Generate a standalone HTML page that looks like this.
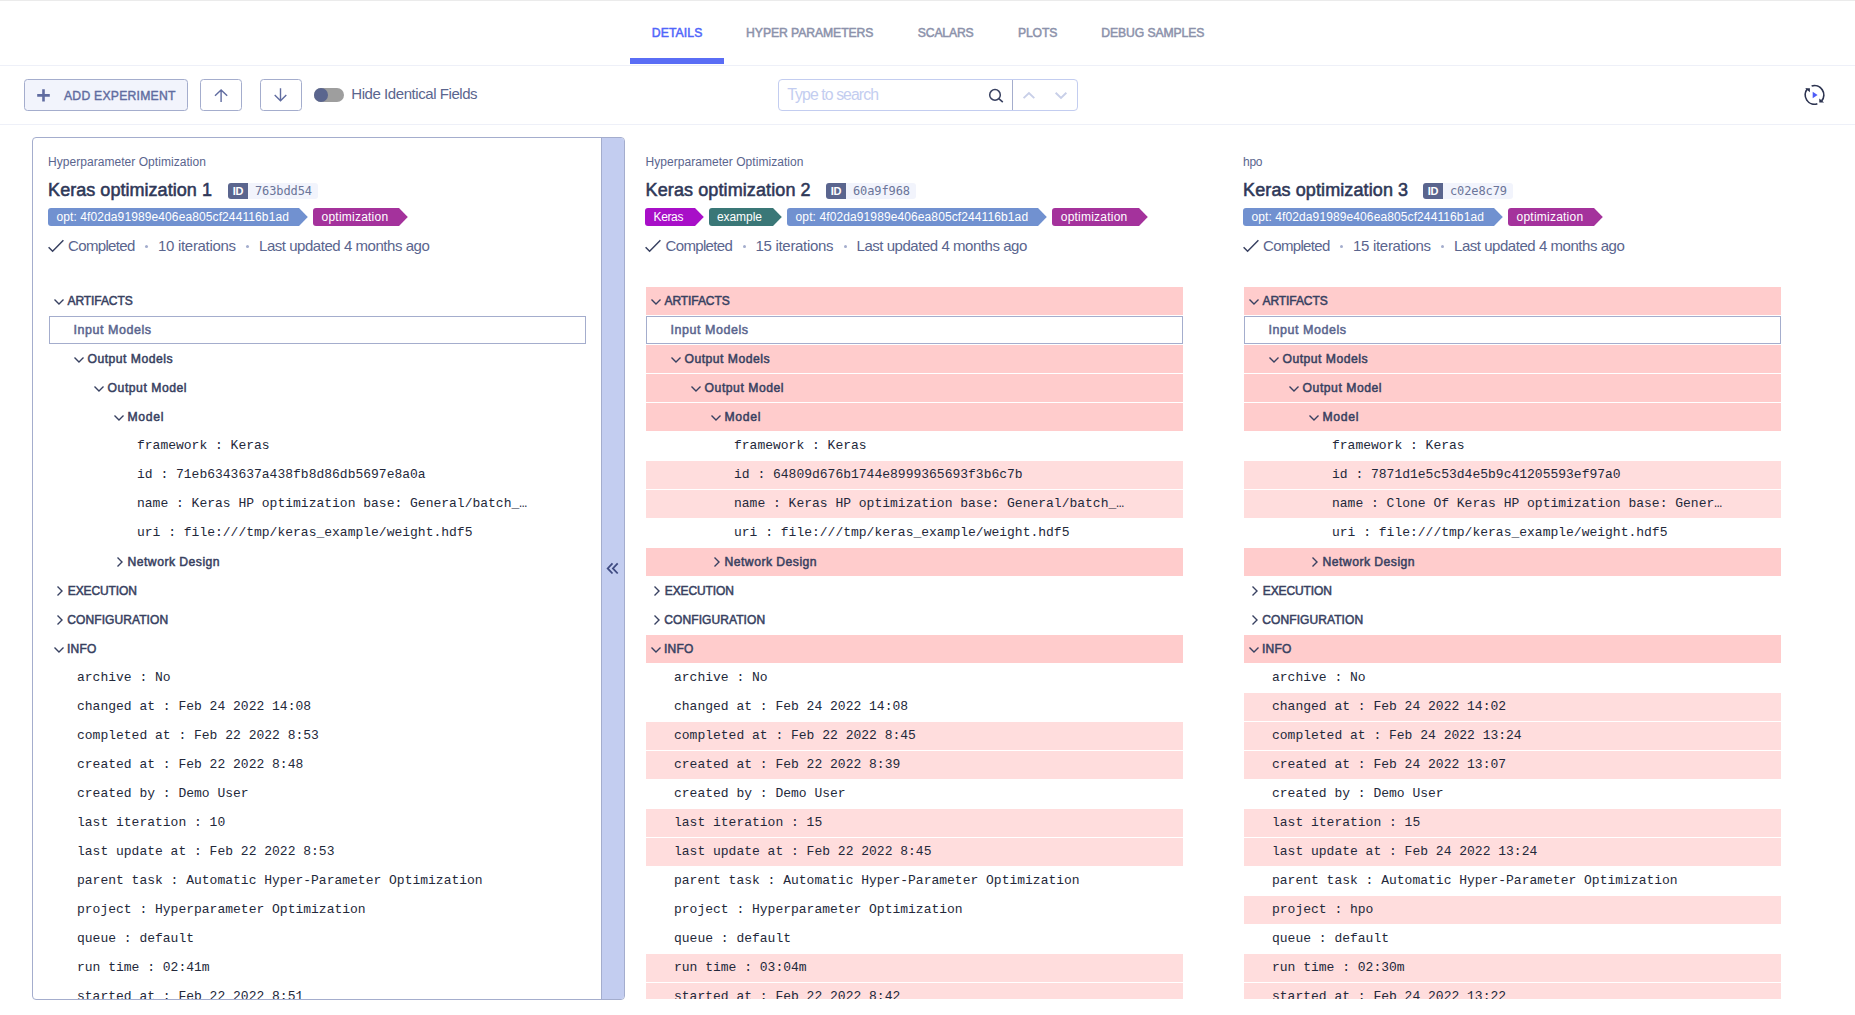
<!DOCTYPE html>
<html lang="en"><head><meta charset="utf-8"><title>Compare experiments</title>
<style>
*{box-sizing:border-box;margin:0;padding:0}
html,body{width:1855px;height:1015px;overflow:hidden;background:#fff}
body{font-family:"Liberation Sans",sans-serif;color:#384161;position:relative}
.abs{position:absolute}
i{font-style:normal}
.med{-webkit-text-stroke:0.35px currentColor}
.topline{position:absolute;left:0;top:0;width:1855px;height:1px;background:#ebebeb}
.tabs{position:absolute;left:0;top:0;width:1855px;height:66px;border-bottom:1px solid #eef0f8}
.tab{position:absolute;top:25.2px;height:16px;line-height:16px;font-size:12.2px;color:#8c92ab;white-space:nowrap;-webkit-text-stroke:0.5px currentColor}
.tab.act{color:#5066fa}
.tabbar{position:absolute;left:630px;top:58px;width:94px;height:6px;background:#5a6df5}
.toolbar{position:absolute;left:0;top:66px;width:1855px;height:59px;border-bottom:1px solid #eef0f8}
.btn{position:absolute;top:79px;height:32px;border:1px solid #a4adcd;border-radius:3.5px;background:#fff}
.btn.add{left:24px;width:164px;background:#f2f4fc}
.btn.add span{position:absolute;top:8.4px;font-size:12.2px;line-height:16px;color:#606ca0;white-space:nowrap;-webkit-text-stroke:0.4px currentColor}
.btn svg{position:absolute}
.toggle{position:absolute;left:314px;top:88px;width:30px;height:14px;border-radius:7px;background:#9e9e9e}
.toggle i{position:absolute;left:0;top:0;width:14px;height:14px;border-radius:7px;background:#5a658e}
.hidelbl{position:absolute;top:85px;font-size:15px;line-height:18px;color:#5a658e;white-space:nowrap}
.search{position:absolute;left:778px;top:79px;width:300px;height:32px;border:1px solid #c3cdf0;border-radius:4px;background:#fff}
.search .ph{position:absolute;top:6px;font-size:15.8px;line-height:18px;color:#c3cdf0;white-space:nowrap}
.search .sep{position:absolute;left:233px;top:0;width:1px;height:30px;background:#a4adcd}
.search svg{position:absolute}
.refresh{position:absolute;left:1803px;top:84px}

.card{position:absolute;top:137px;height:863px;overflow:hidden}
.c1{left:32px;width:593px;border:1px solid #a4adcd;border-radius:4px}
.c2{left:629px;width:593px;border:1px solid transparent}
.c3{left:1227px;width:593px;border:1px solid transparent}
.bar{position:absolute;right:0;top:0;width:23px;height:863px;background:#c3cdf0;border-left:1px solid #a4adcd}
.bar svg{position:absolute;left:2px;top:422px}
.hd{position:absolute;left:15px;top:0;width:560px;height:140px}
.proj{position:absolute;top:17px;font-size:12px;line-height:14px;color:#5a658e;white-space:nowrap}
.tname{position:absolute;top:40px;font-size:18px;line-height:24px;color:#2f3858;white-space:nowrap;-webkit-text-stroke:0.55px currentColor}
.idb{position:absolute;top:45px;width:20px;height:16px;background:#5a658e;border-radius:3px 0 0 3px;color:#fff;font-size:11px;font-weight:bold;line-height:16px;text-align:center;letter-spacing:-0.2px}
.idv{position:absolute;top:45px;height:16px;width:70px;background:#f2f4fc;border-radius:0 3px 3px 0;font-family:"DejaVu Sans Mono","Liberation Mono",monospace;font-size:12px;line-height:16px;color:#6b7599;padding-left:7px;letter-spacing:-0.1px}
.tags{position:absolute;left:0;top:70px;height:18px;width:570px;white-space:nowrap;font-size:0}
.tag{position:relative;display:inline-block;vertical-align:top;margin-right:13.8px;height:18px;border-radius:3px 0 0 3px;color:#fff;font-size:12px;line-height:18px;white-space:nowrap}
.tag span{position:absolute;top:0}
.tagarrow{position:absolute;right:-9px;top:0}
.status{position:absolute;left:0;top:98.6px;height:18px;width:560px;font-size:15px;line-height:18px;color:#5a658e;white-space:nowrap}
.dot{position:absolute;width:3px;height:3px;border-radius:2px;background:#a4adcd;top:8px}
.tree{position:absolute;left:16px;top:149px;width:537px}
.row{height:28px;margin-bottom:1px;white-space:nowrap;position:relative}
.row .lbl{position:absolute;top:6px;line-height:16px;font-size:12.5px;color:#384161;-webkit-text-stroke:0.5px currentColor}
.row.box{border:1px solid #a4adcd;background:#fff}
.row.box .lbl{color:#5a658e;top:5px}
.row .mono{position:absolute;top:6px;line-height:16px;font-family:"Liberation Mono",monospace;font-size:13px;color:#23283a}
.row.D{background:#ffcccc}
.row.L{background:#ffdddd}

</style></head>
<body>
<div class="tabs"></div>
<div class="topline"></div>
<div class="tab act" style="left:651.7px;letter-spacing:0.14px">DETAILS</div>
<div class="tab" style="left:746.1px;letter-spacing:-0.074px">HYPER PARAMETERS</div>
<div class="tab" style="left:917.8px;letter-spacing:-0.161px">SCALARS</div>
<div class="tab" style="left:1017.9px;letter-spacing:-0.133px">PLOTS</div>
<div class="tab" style="left:1101.3px;letter-spacing:-0.106px">DEBUG SAMPLES</div>
<div class="tabbar"></div>
<div class="toolbar"></div>
<div class="btn add"><svg style="left:12px;top:9px" viewBox="0 0 13 13" width="13" height="13"><path d="M6.5 0.2 V12.6 M0.2 6.4 H12.8" stroke="#606ca0" stroke-width="2.6" fill="none"/></svg><span style="left:39.0px;letter-spacing:0.238px">ADD EXPERIMENT</span></div>
<div class="btn" style="left:200px;width:42px"><svg style="left:12px;top:8px" viewBox="0 0 16 16" width="16" height="16"><path d="M8.1 14 V2.5 M2 7.8 L8.1 1.9 L14.2 7.8" stroke="#606ca0" stroke-width="1.4" fill="none"/></svg></div>
<div class="btn" style="left:260px;width:42px"><svg style="left:12px;top:8px" viewBox="0 0 16 16" width="16" height="16"><path d="M7.5 0.3 V12.2 M1.7 6.9 L7.5 12.7 L13.3 6.9" stroke="#606ca0" stroke-width="1.4" fill="none"/></svg></div>
<div class="toggle"><i></i></div>
<div class="hidelbl" style="left:351.3px;letter-spacing:-0.438px">Hide Identical Fields</div>
<div class="search"><span class="ph" style="left:8.25px;letter-spacing:-0.914px">Type to search</span>
<svg style="left:209px;top:8px" viewBox="0 0 16 16" width="16" height="16"><circle cx="7" cy="6.9" r="5.3" fill="none" stroke="#384161" stroke-width="1.5"/><path d="M10.8 10.7 L14.8 14.1" stroke="#384161" stroke-width="1.6"/></svg>
<div class="sep"></div>
<svg style="left:243px;top:10px" viewBox="0 0 14 10" width="14" height="10"><path d="M1.6 8.1 L6.95 3 L12.3 8.1" fill="none" stroke="#c8cfe8" stroke-width="1.9"/></svg>
<svg style="left:275px;top:10px" viewBox="0 0 14 10" width="14" height="10"><path d="M1.65 2.8 L7 7.9 L12.35 2.8" fill="none" stroke="#c8cfe8" stroke-width="1.9"/></svg>
</div>
<svg class="abs" style="left:1802px;top:83px" viewBox="-12.5 -11.9 24 24" width="24" height="24"><path d="M-2.87 -8.85 A9.3 9.3 0 0 1 7.12 5.98 M2.87 8.85 A9.3 9.3 0 0 1 -7.12 -5.98" fill="none" stroke="#2c3350" stroke-width="1.7"/><path d="M4.8 3.6 L4.8 7.7 L9.6 7.7 Z M-9.4 -6.7 L-4.6 -6.7 L-4.6 -2.7 Z" fill="#2c3350"/><path d="M-1.8 -3.1 L-1.8 3.3 L3.1 0 Z" fill="#4d5cf7"/></svg>

<div class="card c1"><div class="hd">
<div class="proj" style="left:0.1px;letter-spacing:0.04px">Hyperparameter Optimization</div>
<div class="tname" style="left:0.1px;letter-spacing:0.038px">Keras optimization 1</div>
<span class="idb" style="left:180px">ID</span><span class="idv" style="left:200px">763bdd54</span>
<div class="tags"><div class="tag" style="width:251.2px;background:#7191d0"><span style="left:8.4px;letter-spacing:0.106px">opt: 4f02da91989e406ea805cf244116b1ad</span><svg class="tagarrow" viewBox="0 0 9 18" width="9" height="18"><path d="M0 0 L8.8 9 L0 18 Z" fill="#7191d0"/></svg></div><div class="tag" style="width:86.5px;background:#a4329c"><span style="left:8.6px;letter-spacing:0.222px">optimization</span><svg class="tagarrow" viewBox="0 0 9 18" width="9" height="18"><path d="M0 0 L8.8 9 L0 18 Z" fill="#a4329c"/></svg></div></div>
<div class="status"><svg class="abs" style="left:-1px;top:1px" viewBox="0 0 18 16" width="18" height="16"><path d="M1.6 9.2 L5.6 13.2 L16.4 2.2" fill="none" stroke="#384161" stroke-width="1.5"/></svg><span class="abs" style="left:20.1px;letter-spacing:-0.675px">Completed</span><i class="dot" style="left:97px"></i><span class="abs" style="left:110.1px;letter-spacing:-0.318px">10 iterations</span><i class="dot" style="left:198px"></i><span class="abs" style="left:211px;letter-spacing:-0.461px">Last updated 4 months ago</span></div>
</div><div class="tree"><div class="row sec"><svg class="abs" style="left:4.2px;top:11px" width="12" height="8" viewBox="0 0 12 8"><path d="M1.5 1.5 L6 6 L10.5 1.5" fill="none" stroke="#384161" stroke-width="1.4"/></svg><span class="lbl" style="font-size:12.0px;left:18.5px;letter-spacing:-0.073px">ARTIFACTS</span></div>
<div class="row box"><span class="lbl" style="left:23.6px;letter-spacing:0.54px">Input Models</span></div>
<div class="row grp"><svg class="abs" style="left:24.2px;top:11px" width="12" height="8" viewBox="0 0 12 8"><path d="M1.5 1.5 L6 6 L10.5 1.5" fill="none" stroke="#384161" stroke-width="1.4"/></svg><span class="lbl" style="font-size:12.2px;left:38.5px;letter-spacing:0.478px">Output Models</span></div>
<div class="row grp"><svg class="abs" style="left:44.2px;top:11px" width="12" height="8" viewBox="0 0 12 8"><path d="M1.5 1.5 L6 6 L10.5 1.5" fill="none" stroke="#384161" stroke-width="1.4"/></svg><span class="lbl" style="font-size:12.2px;left:58.6px;letter-spacing:0.522px">Output Model</span></div>
<div class="row grp"><svg class="abs" style="left:64.2px;top:11px" width="12" height="8" viewBox="0 0 12 8"><path d="M1.5 1.5 L6 6 L10.5 1.5" fill="none" stroke="#384161" stroke-width="1.4"/></svg><span class="lbl" style="font-size:12.2px;left:78.5px;letter-spacing:0.678px">Model</span></div>
<div class="row leaf"><span class="mono" style="left:88px">framework : Keras</span></div>
<div class="row leaf"><span class="mono" style="left:88px">id : 71eb6343637a438fb8d86db5697e8a0a</span></div>
<div class="row leaf"><span class="mono" style="left:88px">name : Keras HP optimization base: General/batch_…</span></div>
<div class="row leaf"><span class="mono" style="left:88px">uri : file:///tmp/keras_example/weight.hdf5</span></div>
<div class="row grp"><svg class="abs" style="left:66.9px;top:8.2px" width="8" height="12" viewBox="0 0 8 12"><path d="M1.5 1.5 L6 6 L1.5 10.5" fill="none" stroke="#384161" stroke-width="1.4"/></svg><span class="lbl" style="font-size:12.2px;left:78.5px;letter-spacing:0.466px">Network Design</span></div>
<div class="row sec"><svg class="abs" style="left:6.9px;top:8.2px" width="8" height="12" viewBox="0 0 8 12"><path d="M1.5 1.5 L6 6 L1.5 10.5" fill="none" stroke="#384161" stroke-width="1.4"/></svg><span class="lbl" style="font-size:12.0px;left:18.8px;letter-spacing:-0.118px">EXECUTION</span></div>
<div class="row sec"><svg class="abs" style="left:6.9px;top:8.2px" width="8" height="12" viewBox="0 0 8 12"><path d="M1.5 1.5 L6 6 L1.5 10.5" fill="none" stroke="#384161" stroke-width="1.4"/></svg><span class="lbl" style="font-size:12.0px;left:18.3px;letter-spacing:0.087px">CONFIGURATION</span></div>
<div class="row sec"><svg class="abs" style="left:4.2px;top:11px" width="12" height="8" viewBox="0 0 12 8"><path d="M1.5 1.5 L6 6 L10.5 1.5" fill="none" stroke="#384161" stroke-width="1.4"/></svg><span class="lbl" style="font-size:12.0px;left:17.9px;letter-spacing:0.257px">INFO</span></div>
<div class="row leaf"><span class="mono" style="left:28px">archive : No</span></div>
<div class="row leaf"><span class="mono" style="left:28px">changed at : Feb 24 2022 14:08</span></div>
<div class="row leaf"><span class="mono" style="left:28px">completed at : Feb 22 2022 8:53</span></div>
<div class="row leaf"><span class="mono" style="left:28px">created at : Feb 22 2022 8:48</span></div>
<div class="row leaf"><span class="mono" style="left:28px">created by : Demo User</span></div>
<div class="row leaf"><span class="mono" style="left:28px">last iteration : 10</span></div>
<div class="row leaf"><span class="mono" style="left:28px">last update at : Feb 22 2022 8:53</span></div>
<div class="row leaf"><span class="mono" style="left:28px">parent task : Automatic Hyper-Parameter Optimization</span></div>
<div class="row leaf"><span class="mono" style="left:28px">project : Hyperparameter Optimization</span></div>
<div class="row leaf"><span class="mono" style="left:28px">queue : default</span></div>
<div class="row leaf"><span class="mono" style="left:28px">run time : 02:41m</span></div>
<div class="row leaf"><span class="mono" style="left:28px">started at : Feb 22 2022 8:51</span></div></div><div class="bar"><svg viewBox="0 0 16 16" width="16" height="16"><path d="M8.5 3.3 L3.7 8.4 L8.5 13.5 M13.7 3.3 L8.9 8.4 L13.7 13.5" fill="none" stroke="#3f4b82" stroke-width="1.8"/></svg></div></div>
<div class="card c2"><div class="hd">
<div class="proj" style="left:0.6px;letter-spacing:0.04px">Hyperparameter Optimization</div>
<div class="tname" style="left:0.6px;letter-spacing:0.102px">Keras optimization 2</div>
<span class="idb" style="left:181px">ID</span><span class="idv" style="left:201px">60a9f968</span>
<div class="tags"><div class="tag" style="width:50.3px;background:#a80fc8"><span style="left:8.6px;letter-spacing:-0.387px">Keras</span><svg class="tagarrow" viewBox="0 0 9 18" width="9" height="18"><path d="M0 0 L8.8 9 L0 18 Z" fill="#a80fc8"/></svg></div><div class="tag" style="width:64.3px;background:#3a7777"><span style="left:7.8px;letter-spacing:-0.047px">example</span><svg class="tagarrow" viewBox="0 0 9 18" width="9" height="18"><path d="M0 0 L8.8 9 L0 18 Z" fill="#3a7777"/></svg></div><div class="tag" style="width:251.2px;background:#7191d0"><span style="left:8.4px;letter-spacing:0.106px">opt: 4f02da91989e406ea805cf244116b1ad</span><svg class="tagarrow" viewBox="0 0 9 18" width="9" height="18"><path d="M0 0 L8.8 9 L0 18 Z" fill="#7191d0"/></svg></div><div class="tag" style="width:86.5px;background:#a4329c"><span style="left:8.6px;letter-spacing:0.222px">optimization</span><svg class="tagarrow" viewBox="0 0 9 18" width="9" height="18"><path d="M0 0 L8.8 9 L0 18 Z" fill="#a4329c"/></svg></div></div>
<div class="status"><svg class="abs" style="left:-1px;top:1px" viewBox="0 0 18 16" width="18" height="16"><path d="M1.6 9.2 L5.6 13.2 L16.4 2.2" fill="none" stroke="#384161" stroke-width="1.5"/></svg><span class="abs" style="left:20.6px;letter-spacing:-0.675px">Completed</span><i class="dot" style="left:98.0px"></i><span class="abs" style="left:110.6px;letter-spacing:-0.318px">15 iterations</span><i class="dot" style="left:199.0px"></i><span class="abs" style="left:211.5px;letter-spacing:-0.461px">Last updated 4 months ago</span></div>
</div><div class="tree"><div class="row sec D"><svg class="abs" style="left:4.2px;top:11px" width="12" height="8" viewBox="0 0 12 8"><path d="M1.5 1.5 L6 6 L10.5 1.5" fill="none" stroke="#384161" stroke-width="1.4"/></svg><span class="lbl" style="font-size:12.0px;left:18.5px;letter-spacing:-0.073px">ARTIFACTS</span></div>
<div class="row box"><span class="lbl" style="left:23.6px;letter-spacing:0.54px">Input Models</span></div>
<div class="row grp D"><svg class="abs" style="left:24.2px;top:11px" width="12" height="8" viewBox="0 0 12 8"><path d="M1.5 1.5 L6 6 L10.5 1.5" fill="none" stroke="#384161" stroke-width="1.4"/></svg><span class="lbl" style="font-size:12.2px;left:38.5px;letter-spacing:0.478px">Output Models</span></div>
<div class="row grp D"><svg class="abs" style="left:44.2px;top:11px" width="12" height="8" viewBox="0 0 12 8"><path d="M1.5 1.5 L6 6 L10.5 1.5" fill="none" stroke="#384161" stroke-width="1.4"/></svg><span class="lbl" style="font-size:12.2px;left:58.6px;letter-spacing:0.522px">Output Model</span></div>
<div class="row grp D"><svg class="abs" style="left:64.2px;top:11px" width="12" height="8" viewBox="0 0 12 8"><path d="M1.5 1.5 L6 6 L10.5 1.5" fill="none" stroke="#384161" stroke-width="1.4"/></svg><span class="lbl" style="font-size:12.2px;left:78.5px;letter-spacing:0.678px">Model</span></div>
<div class="row leaf"><span class="mono" style="left:88px">framework : Keras</span></div>
<div class="row leaf L"><span class="mono" style="left:88px">id : 64809d676b1744e8999365693f3b6c7b</span></div>
<div class="row leaf L"><span class="mono" style="left:88px">name : Keras HP optimization base: General/batch_…</span></div>
<div class="row leaf"><span class="mono" style="left:88px">uri : file:///tmp/keras_example/weight.hdf5</span></div>
<div class="row grp D"><svg class="abs" style="left:66.9px;top:8.2px" width="8" height="12" viewBox="0 0 8 12"><path d="M1.5 1.5 L6 6 L1.5 10.5" fill="none" stroke="#384161" stroke-width="1.4"/></svg><span class="lbl" style="font-size:12.2px;left:78.5px;letter-spacing:0.466px">Network Design</span></div>
<div class="row sec"><svg class="abs" style="left:6.9px;top:8.2px" width="8" height="12" viewBox="0 0 8 12"><path d="M1.5 1.5 L6 6 L1.5 10.5" fill="none" stroke="#384161" stroke-width="1.4"/></svg><span class="lbl" style="font-size:12.0px;left:18.8px;letter-spacing:-0.118px">EXECUTION</span></div>
<div class="row sec"><svg class="abs" style="left:6.9px;top:8.2px" width="8" height="12" viewBox="0 0 8 12"><path d="M1.5 1.5 L6 6 L1.5 10.5" fill="none" stroke="#384161" stroke-width="1.4"/></svg><span class="lbl" style="font-size:12.0px;left:18.3px;letter-spacing:0.087px">CONFIGURATION</span></div>
<div class="row sec D"><svg class="abs" style="left:4.2px;top:11px" width="12" height="8" viewBox="0 0 12 8"><path d="M1.5 1.5 L6 6 L10.5 1.5" fill="none" stroke="#384161" stroke-width="1.4"/></svg><span class="lbl" style="font-size:12.0px;left:17.9px;letter-spacing:0.257px">INFO</span></div>
<div class="row leaf"><span class="mono" style="left:28px">archive : No</span></div>
<div class="row leaf"><span class="mono" style="left:28px">changed at : Feb 24 2022 14:08</span></div>
<div class="row leaf L"><span class="mono" style="left:28px">completed at : Feb 22 2022 8:45</span></div>
<div class="row leaf L"><span class="mono" style="left:28px">created at : Feb 22 2022 8:39</span></div>
<div class="row leaf"><span class="mono" style="left:28px">created by : Demo User</span></div>
<div class="row leaf L"><span class="mono" style="left:28px">last iteration : 15</span></div>
<div class="row leaf L"><span class="mono" style="left:28px">last update at : Feb 22 2022 8:45</span></div>
<div class="row leaf"><span class="mono" style="left:28px">parent task : Automatic Hyper-Parameter Optimization</span></div>
<div class="row leaf"><span class="mono" style="left:28px">project : Hyperparameter Optimization</span></div>
<div class="row leaf"><span class="mono" style="left:28px">queue : default</span></div>
<div class="row leaf L"><span class="mono" style="left:28px">run time : 03:04m</span></div>
<div class="row leaf L"><span class="mono" style="left:28px">started at : Feb 22 2022 8:42</span></div></div></div>
<div class="card c3"><div class="hd">
<div class="proj" style="left:0.1px;letter-spacing:-0.324px">hpo</div>
<div class="tname" style="left:0.1px;letter-spacing:0.102px">Keras optimization 3</div>
<span class="idb" style="left:180px">ID</span><span class="idv" style="left:200px">c02e8c79</span>
<div class="tags"><div class="tag" style="width:251.2px;background:#7191d0"><span style="left:8.4px;letter-spacing:0.106px">opt: 4f02da91989e406ea805cf244116b1ad</span><svg class="tagarrow" viewBox="0 0 9 18" width="9" height="18"><path d="M0 0 L8.8 9 L0 18 Z" fill="#7191d0"/></svg></div><div class="tag" style="width:86.5px;background:#a4329c"><span style="left:8.6px;letter-spacing:0.222px">optimization</span><svg class="tagarrow" viewBox="0 0 9 18" width="9" height="18"><path d="M0 0 L8.8 9 L0 18 Z" fill="#a4329c"/></svg></div></div>
<div class="status"><svg class="abs" style="left:-1px;top:1px" viewBox="0 0 18 16" width="18" height="16"><path d="M1.6 9.2 L5.6 13.2 L16.4 2.2" fill="none" stroke="#384161" stroke-width="1.5"/></svg><span class="abs" style="left:20.1px;letter-spacing:-0.675px">Completed</span><i class="dot" style="left:97px"></i><span class="abs" style="left:110.1px;letter-spacing:-0.318px">15 iterations</span><i class="dot" style="left:198px"></i><span class="abs" style="left:211px;letter-spacing:-0.461px">Last updated 4 months ago</span></div>
</div><div class="tree"><div class="row sec D"><svg class="abs" style="left:4.2px;top:11px" width="12" height="8" viewBox="0 0 12 8"><path d="M1.5 1.5 L6 6 L10.5 1.5" fill="none" stroke="#384161" stroke-width="1.4"/></svg><span class="lbl" style="font-size:12.0px;left:18.5px;letter-spacing:-0.073px">ARTIFACTS</span></div>
<div class="row box"><span class="lbl" style="left:23.6px;letter-spacing:0.54px">Input Models</span></div>
<div class="row grp D"><svg class="abs" style="left:24.2px;top:11px" width="12" height="8" viewBox="0 0 12 8"><path d="M1.5 1.5 L6 6 L10.5 1.5" fill="none" stroke="#384161" stroke-width="1.4"/></svg><span class="lbl" style="font-size:12.2px;left:38.5px;letter-spacing:0.478px">Output Models</span></div>
<div class="row grp D"><svg class="abs" style="left:44.2px;top:11px" width="12" height="8" viewBox="0 0 12 8"><path d="M1.5 1.5 L6 6 L10.5 1.5" fill="none" stroke="#384161" stroke-width="1.4"/></svg><span class="lbl" style="font-size:12.2px;left:58.6px;letter-spacing:0.522px">Output Model</span></div>
<div class="row grp D"><svg class="abs" style="left:64.2px;top:11px" width="12" height="8" viewBox="0 0 12 8"><path d="M1.5 1.5 L6 6 L10.5 1.5" fill="none" stroke="#384161" stroke-width="1.4"/></svg><span class="lbl" style="font-size:12.2px;left:78.5px;letter-spacing:0.678px">Model</span></div>
<div class="row leaf"><span class="mono" style="left:88px">framework : Keras</span></div>
<div class="row leaf L"><span class="mono" style="left:88px">id : 7871d1e5c53d4e5b9c41205593ef97a0</span></div>
<div class="row leaf L"><span class="mono" style="left:88px">name : Clone Of Keras HP optimization base: Gener…</span></div>
<div class="row leaf"><span class="mono" style="left:88px">uri : file:///tmp/keras_example/weight.hdf5</span></div>
<div class="row grp D"><svg class="abs" style="left:66.9px;top:8.2px" width="8" height="12" viewBox="0 0 8 12"><path d="M1.5 1.5 L6 6 L1.5 10.5" fill="none" stroke="#384161" stroke-width="1.4"/></svg><span class="lbl" style="font-size:12.2px;left:78.5px;letter-spacing:0.466px">Network Design</span></div>
<div class="row sec"><svg class="abs" style="left:6.9px;top:8.2px" width="8" height="12" viewBox="0 0 8 12"><path d="M1.5 1.5 L6 6 L1.5 10.5" fill="none" stroke="#384161" stroke-width="1.4"/></svg><span class="lbl" style="font-size:12.0px;left:18.8px;letter-spacing:-0.118px">EXECUTION</span></div>
<div class="row sec"><svg class="abs" style="left:6.9px;top:8.2px" width="8" height="12" viewBox="0 0 8 12"><path d="M1.5 1.5 L6 6 L1.5 10.5" fill="none" stroke="#384161" stroke-width="1.4"/></svg><span class="lbl" style="font-size:12.0px;left:18.3px;letter-spacing:0.087px">CONFIGURATION</span></div>
<div class="row sec D"><svg class="abs" style="left:4.2px;top:11px" width="12" height="8" viewBox="0 0 12 8"><path d="M1.5 1.5 L6 6 L10.5 1.5" fill="none" stroke="#384161" stroke-width="1.4"/></svg><span class="lbl" style="font-size:12.0px;left:17.9px;letter-spacing:0.257px">INFO</span></div>
<div class="row leaf"><span class="mono" style="left:28px">archive : No</span></div>
<div class="row leaf L"><span class="mono" style="left:28px">changed at : Feb 24 2022 14:02</span></div>
<div class="row leaf L"><span class="mono" style="left:28px">completed at : Feb 24 2022 13:24</span></div>
<div class="row leaf L"><span class="mono" style="left:28px">created at : Feb 24 2022 13:07</span></div>
<div class="row leaf"><span class="mono" style="left:28px">created by : Demo User</span></div>
<div class="row leaf L"><span class="mono" style="left:28px">last iteration : 15</span></div>
<div class="row leaf L"><span class="mono" style="left:28px">last update at : Feb 24 2022 13:24</span></div>
<div class="row leaf"><span class="mono" style="left:28px">parent task : Automatic Hyper-Parameter Optimization</span></div>
<div class="row leaf L"><span class="mono" style="left:28px">project : hpo</span></div>
<div class="row leaf"><span class="mono" style="left:28px">queue : default</span></div>
<div class="row leaf L"><span class="mono" style="left:28px">run time : 02:30m</span></div>
<div class="row leaf L"><span class="mono" style="left:28px">started at : Feb 24 2022 13:22</span></div></div></div>
</body></html>
